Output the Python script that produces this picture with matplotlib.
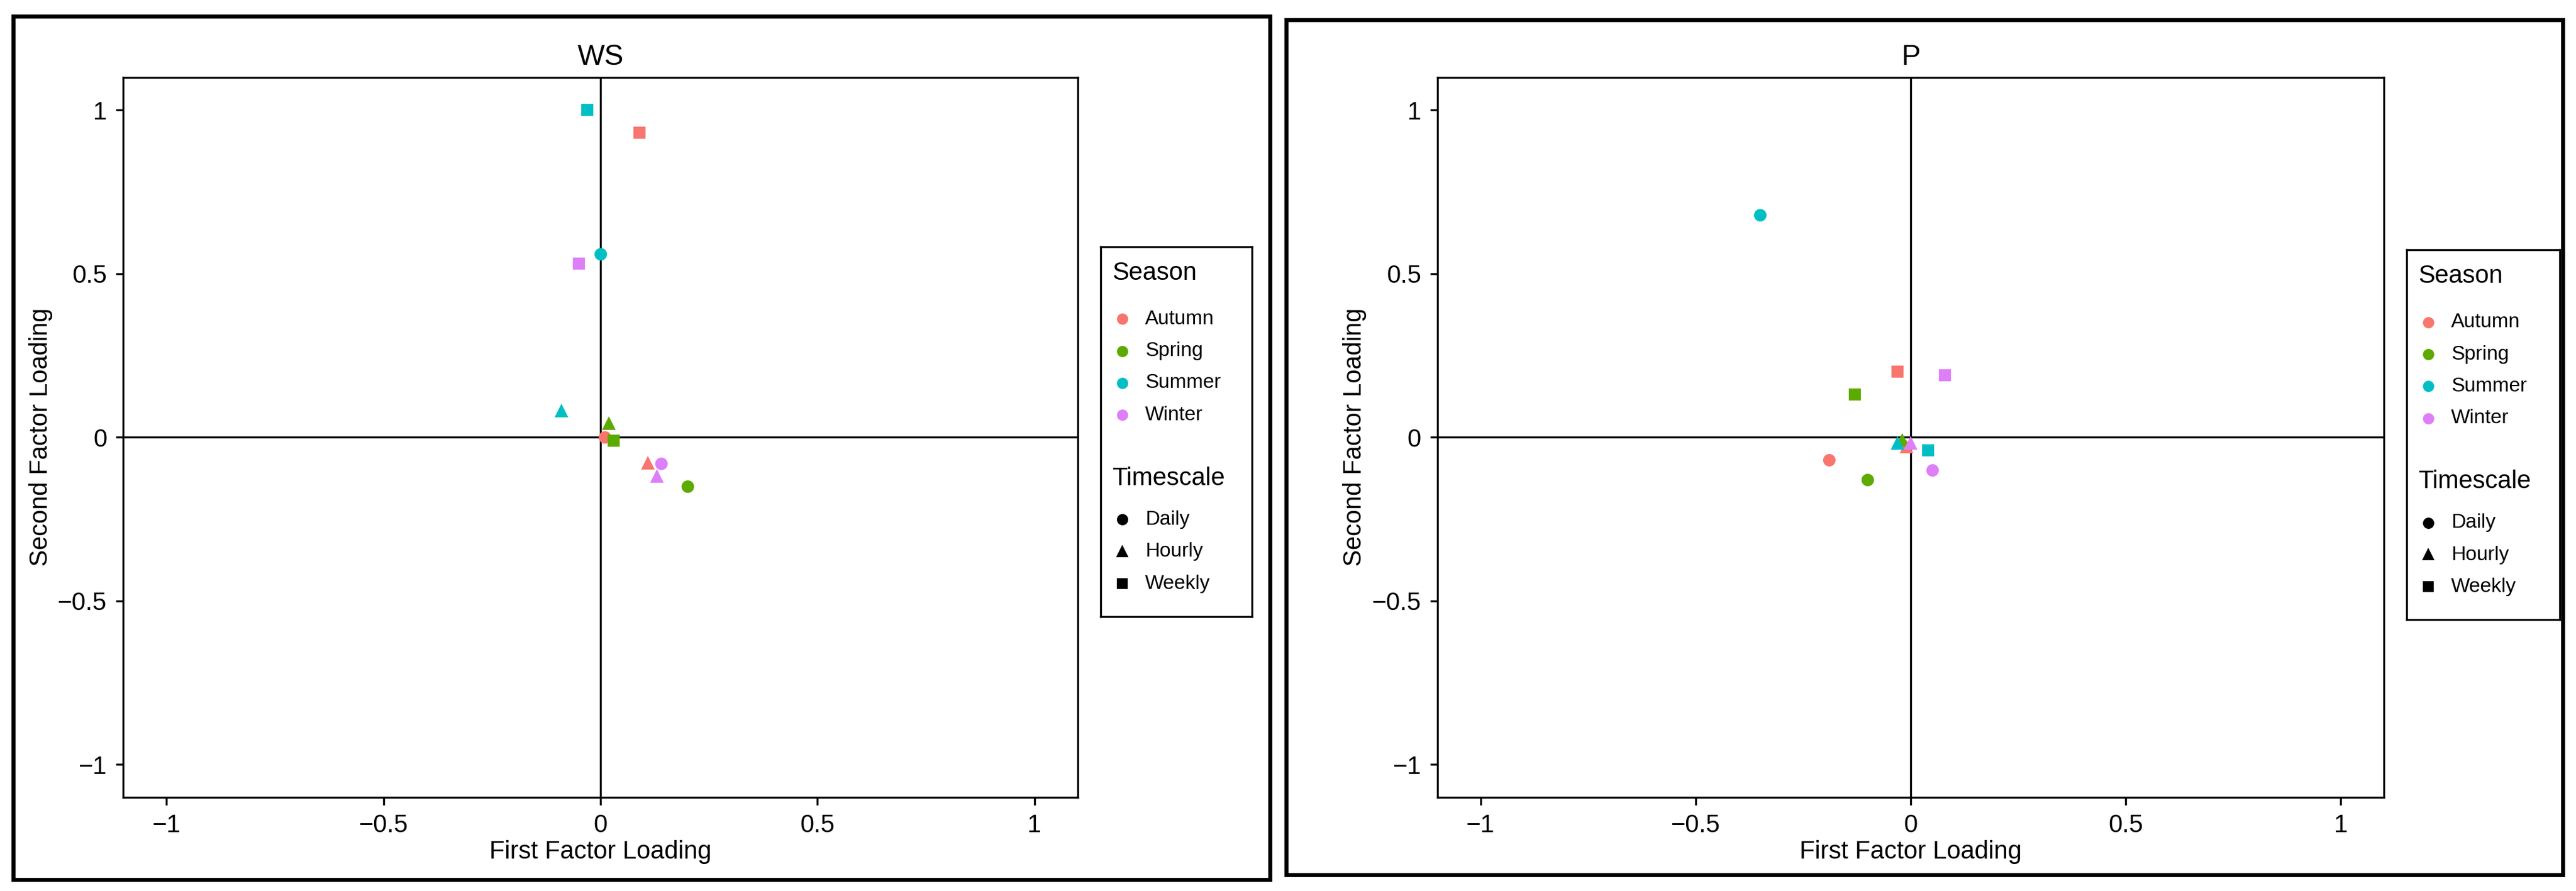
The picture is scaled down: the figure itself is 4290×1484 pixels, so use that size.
import matplotlib

matplotlib.use("Agg")
import matplotlib.pyplot as plt
from matplotlib.patches import Rectangle

plt.rcParams["font.family"] = ["Liberation Sans", "DejaVu Sans"]

SEASONS = ["Autumn", "Spring", "Summer", "Winter"]
TIMESCALES = ["Daily", "Hourly", "Weekly"]
COLORS = {"Autumn": "#F8766D", "Spring": "#5DAA00", "Summer": "#00BFC4", "Winter": "#DD80F8"}
MARKERS = {"Daily": "o", "Hourly": "^", "Weekly": "s"}

# (season, timescale) for each point
ws_season = ["Autumn", "Autumn", "Autumn", "Spring", "Spring", "Spring",
             "Summer", "Summer", "Summer", "Winter", "Winter", "Winter"]
ws_time = ["Daily", "Hourly", "Weekly"] * 4
ws_x = [0.01, 0.11, 0.09, 0.20, 0.02, 0.03, 0.00, -0.09, -0.03, 0.14, 0.13, -0.05]
ws_y = [0.00, -0.08, 0.93, -0.15, 0.04, -0.01, 0.56, 0.08, 1.00, -0.08, -0.12, 0.53]

p_season = ws_season
p_time = ws_time
p_x = [-0.19, -0.01, -0.03, -0.10, -0.02, -0.13, -0.35, -0.03, 0.04, 0.05, 0.00, 0.08]
p_y = [-0.07, -0.03, 0.20, -0.13, -0.01, 0.13, 0.68, -0.02, -0.04, -0.10, -0.02, 0.19]

W, H = 1568.0, 542.0
fig = plt.figure(figsize=(14.3, 4.947), dpi=300)


def frac(x0, y0, x1, y1):
    return [x0 / W, 1 - y1 / H, (x1 - x0) / W, (y1 - y0) / H]


def panel(ax_box, frame_box, leg_box, title, xs, ys, seasons, times):
    fx0, fy0, fx1, fy1 = frame_box
    fig.patches.append(Rectangle((fx0 / W, 1 - fy1 / H), (fx1 - fx0) / W, (fy1 - fy0) / H,
                                 transform=fig.transFigure, fill=False, lw=1.6, ec="black"))
    ax = fig.add_axes(frac(*ax_box))
    ax.axhline(0, color="black", lw=0.8, zorder=1)
    ax.axvline(0, color="black", lw=0.8, zorder=1)
    for x, y, s, t in zip(xs, ys, seasons, times):
        ax.plot(x, y, marker=MARKERS[t], color=COLORS[s], ms=4, ls="none", zorder=3)
    ax.set_xlim(-1.1, 1.1)
    ax.set_ylim(-1.1, 1.1)
    ticks = [-1, -0.5, 0, 0.5, 1]
    labels = ["\u22121", "\u22120.5", "0", "0.5", "1"]
    ax.set_xticks(ticks, labels)
    ax.set_yticks(ticks, labels)
    ax.tick_params(labelsize=10, length=3, width=0.8)
    for sp in ax.spines.values():
        sp.set_linewidth(0.8)
    ax.set_title(title, fontsize=11.5, pad=5)
    ax.set_xlabel("First Factor Loading", fontsize=10, labelpad=1)
    ax.set_ylabel("Second Factor Loading", fontsize=10, labelpad=2)

    lx0, ly0, lx1, ly1 = leg_box
    lax = fig.add_axes(frac(*leg_box))
    lax.set_xlim(0, lx1 - lx0)
    lax.set_ylim(ly1 - ly0, 0)
    lax.set_xticks([])
    lax.set_yticks([])
    for sp in lax.spines.values():
        sp.set_linewidth(0.8)
    lax.text(7, 16, "Season", fontsize=10, va="center")
    for i, s in enumerate(SEASONS):
        yy = 44 + i * 19.5
        lax.plot(13, yy, "o", color=COLORS[s], ms=3.5)
        lax.text(27, yy, s, fontsize=8, va="center")
    lax.text(7, 141, "Timescale", fontsize=10, va="center")
    for i, t in enumerate(TIMESCALES):
        yy = 166 + i * 19.5
        lax.plot(13, yy, MARKERS[t], color="black", ms=3.5)
        lax.text(27, yy, t, fontsize=8, va="center")


panel((75, 47, 656, 485), (8, 10, 773, 535), (670, 150, 762, 375),
      "WS", ws_x, ws_y, ws_season, ws_time)
panel((875, 47, 1451, 485), (783, 12, 1560, 532), (1465, 152, 1558, 377),
      "P", p_x, p_y, p_season, p_time)

fig.savefig("out.png", dpi=300)
